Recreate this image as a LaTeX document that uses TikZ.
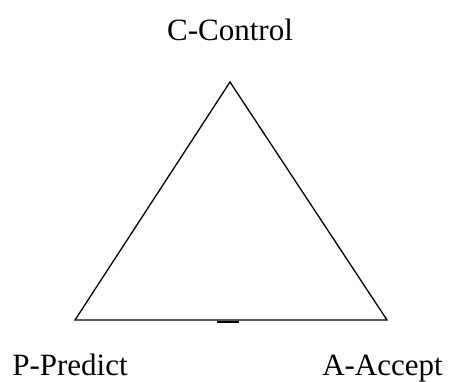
\documentclass[tikz,border=0pt]{standalone}
\usepackage{fontspec}
\setmainfont{Liberation Serif}
\usepackage{tikz}
\usetikzlibrary{positioning,calc}

\begin{document}
\begin{tikzpicture}[
  x=1pt, y=-1pt,
  lbl/.style={font=\fontsize{31}{37}\selectfont, anchor=base, inner sep=0pt},
  side/.style={line width=1.3pt, line join=miter},
  tick/.style={line width=2pt}
]
\useasboundingbox (0,0) rectangle (450,381);
\coordinate (c) at (230,82);
\coordinate (p) at (75,320);
\coordinate (a) at (387,320);
\coordinate (t1) at (217,321.5);
\coordinate (t2) at (239,321.5);
\node[lbl] (ctrl) at (230,40) {C-Control};
\node[lbl] (pred) at (70,375) {P-Predict};
\node[lbl] (acc) at (382.5,375) {A-Accept};
\draw[side] (c) -- (p) -- (a) -- cycle;
\draw[tick] (t1) -- (t2);
\end{tikzpicture}
\end{document}
